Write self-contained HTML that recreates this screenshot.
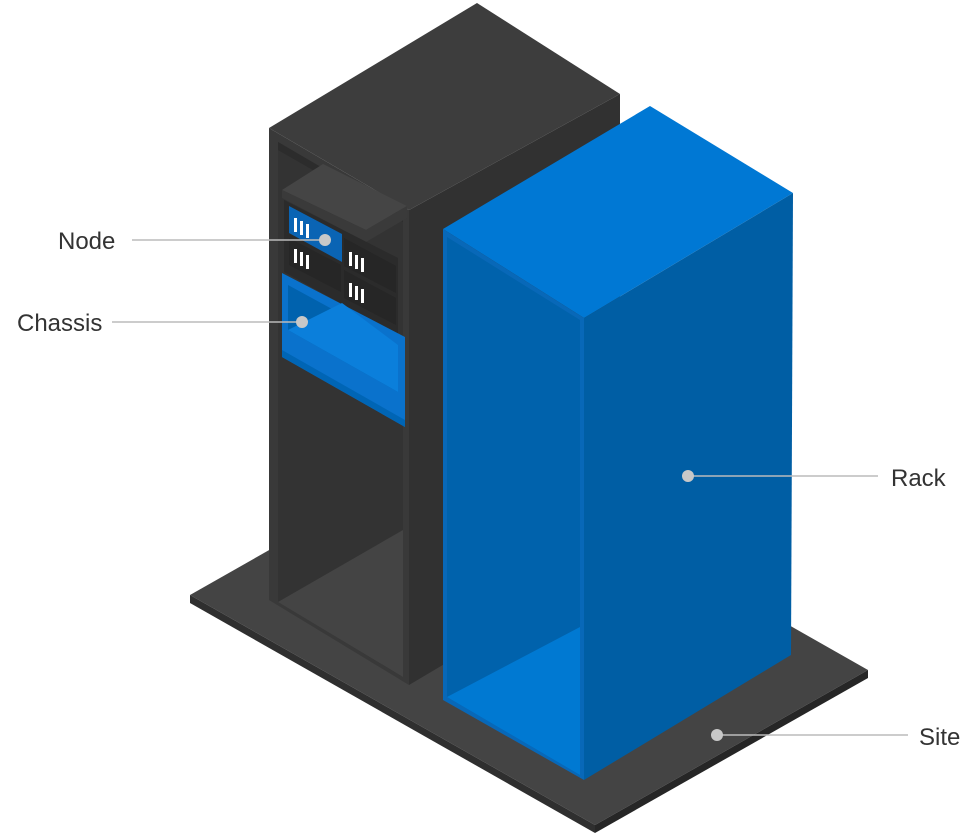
<!DOCTYPE html>
<html><head><meta charset="utf-8"><style>
html,body{margin:0;padding:0;background:#fff;}
svg{display:block;}
text{font-family:"Liberation Sans",sans-serif;font-size:24px;fill:#333;}
</style></head><body>
<svg width="979" height="835" viewBox="0 0 979 835" xmlns="http://www.w3.org/2000/svg">
<!-- Site plate -->
<polygon points="190,595 463,440 868,670 595,825" fill="#444"/>
<polygon points="190,595 595,825 595,833 190,603" fill="#2f2f2f"/>
<polygon points="595,825 868,670 868,678 595,833" fill="#262626"/>

<!-- Dark rack -->
<polygon points="269,128 477,3 620,94 409,210" fill="#3d3d3d"/>
<polygon points="409,210 620,94 620,560 409,685" fill="#313131"/>
<polygon points="269,128 409,210 409,685 269,600" fill="#393939"/>
<!-- inner opening -->
<polygon points="278,142 403,215 403,677 278,602" fill="#333"/>
<polygon points="278,142 403,215 403,222 278,150" fill="#2c2c2c"/>
<polygon points="278,602 403,530 403,677" fill="#444"/>
<!-- node unit -->
<polygon points="282,190 323,164 407,206 366,230" fill="#454545"/>
<polygon points="282,190 366,230 407,206 407,218 366,242 282,198" fill="#3a3a3a"/>
<polygon points="284,200 398,258 398,335 284,272" fill="#2b2b2b"/>
<polygon points="289,206 342,234 342,262 289,233" fill="#0a64b4"/>
<polygon points="289,238 341,265 341,292 289,265" fill="#262626"/>
<polygon points="344,238 396,266 396,293 344,266" fill="#262626"/>
<polygon points="344,270 396,298 396,325 344,298" fill="#262626"/>
<g fill="#fff">
<rect x="294" y="218" width="3" height="14"/><rect x="300" y="221" width="3" height="14"/><rect x="306" y="224" width="3" height="14"/>
<rect x="294" y="249" width="3" height="14"/><rect x="300" y="252" width="3" height="14"/><rect x="306" y="255" width="3" height="14"/>
<rect x="349" y="252" width="3" height="14"/><rect x="355" y="255" width="3" height="14"/><rect x="361" y="258" width="3" height="14"/>
<rect x="349" y="283" width="3" height="14"/><rect x="355" y="286" width="3" height="14"/><rect x="361" y="289" width="3" height="14"/>
</g>
<!-- chassis box -->
<polygon points="282,273 405,337 405,427 282,357" fill="#0a72cc"/>
<polygon points="288,285 398,345 398,392 288,330" fill="#0062ae"/>
<polygon points="288,330 342,303 398,345 398,392" fill="#0b7fdb"/>
<polygon points="282,357 405,427 405,420 282,350" fill="#0065b5"/>

<!-- Blue rack -->
<polygon points="443,229 650,106 793,193 584,318" fill="#0078d4"/>
<polygon points="584,318 793,193 791,655 584,780" fill="#005ea4"/>
<polygon points="443,229 584,318 584,780 443,700" fill="#0868b8"/>
<polygon points="447,237 580,320 580,775 447,697" fill="#0062ac"/>
<polygon points="447,697 580,627 580,775" fill="#0079d2"/>

<!-- Connectors -->
<g stroke="#bbb" stroke-width="1.5">
<line x1="132" y1="240" x2="324" y2="240"/>
<line x1="112" y1="322" x2="303" y2="322"/>
<line x1="690" y1="476" x2="878" y2="476"/>
<line x1="717" y1="735" x2="908" y2="735"/>
</g>
<g fill="#c8c8c8">
<circle cx="325" cy="240" r="6"/>
<circle cx="302" cy="322" r="6"/>
<circle cx="688" cy="476" r="6"/>
<circle cx="717" cy="735" r="6"/>
</g>

<text x="58" y="249">Node</text>
<text x="17" y="331">Chassis</text>
<text x="891" y="486">Rack</text>
<text x="919" y="745">Site</text>
</svg>
</body></html>
